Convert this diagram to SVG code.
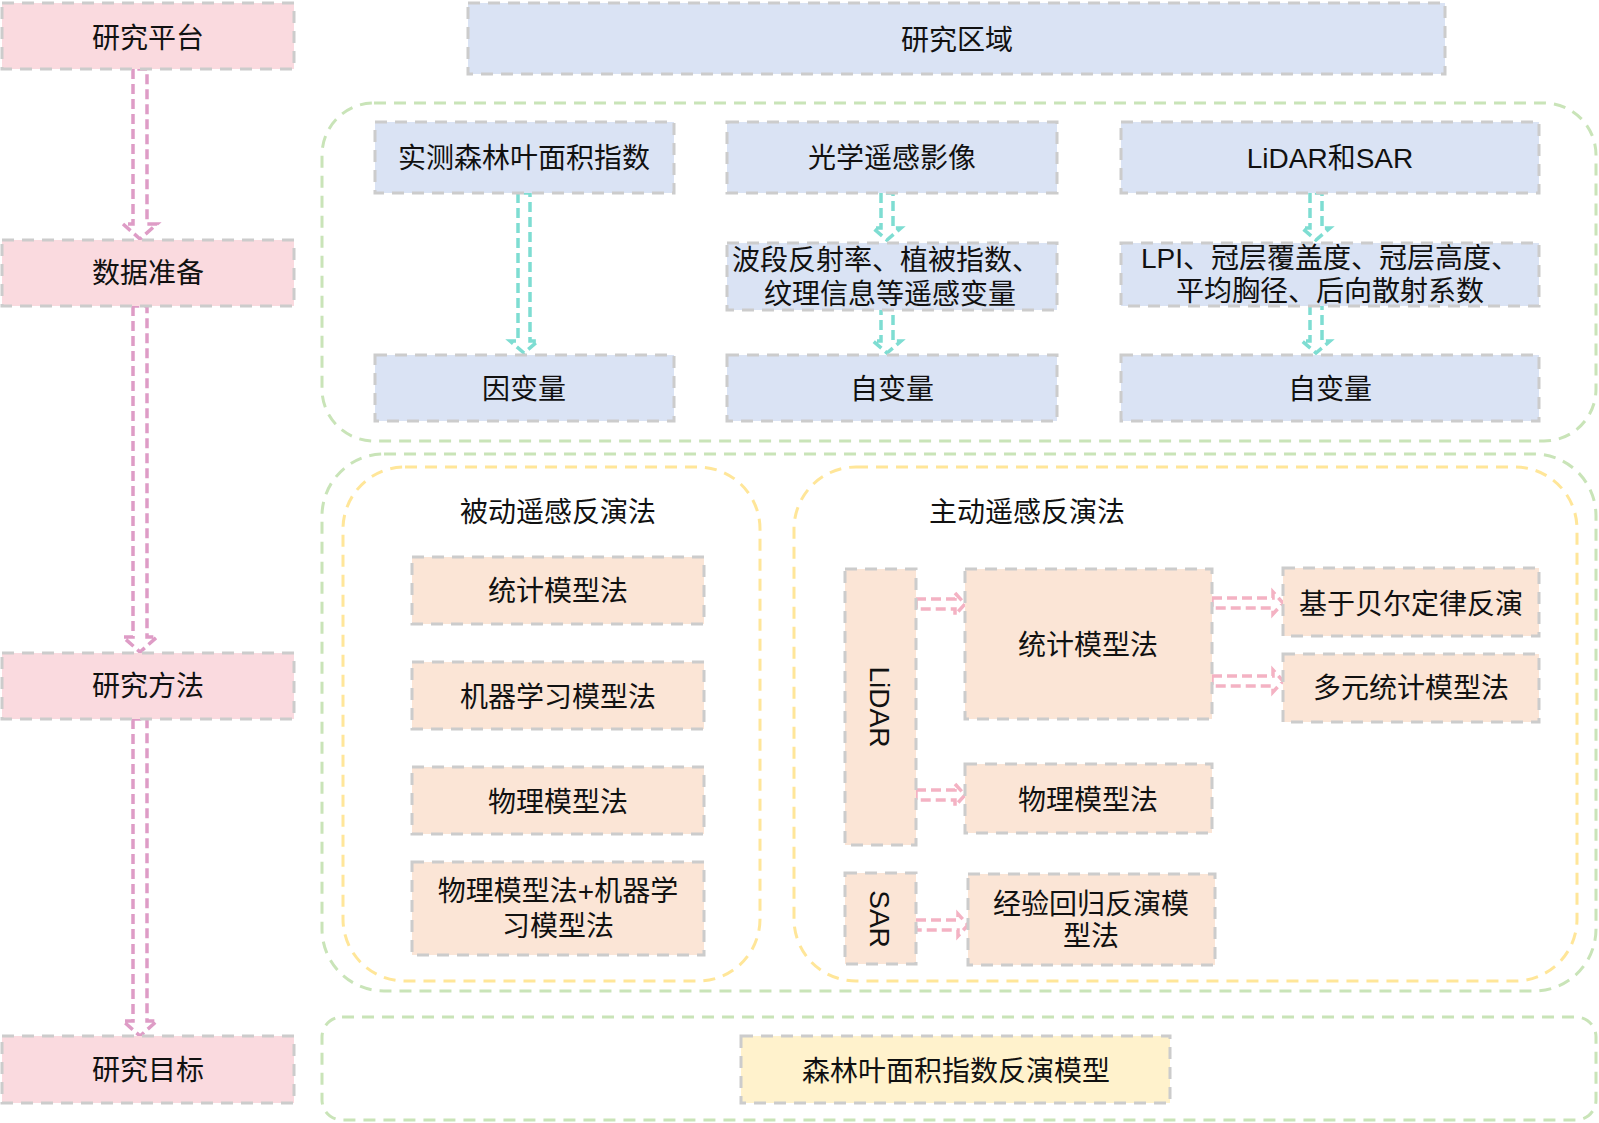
<svg xmlns="http://www.w3.org/2000/svg" width="1599" height="1123" viewBox="0 0 1599 1123">
<style>
text{font-family:"Liberation Sans","Noto Sans CJK SC",sans-serif;font-size:28px;fill:#111;text-anchor:middle}
.box{stroke:#CCCCCC;stroke-width:3;stroke-dasharray:12 8}
.pink{fill:#FADADF}
.blue{fill:#DAE3F4}
.orange{fill:#FBE5D6}
.yellow{fill:#FFF2CC}
.grp{fill:none;stroke-width:3;stroke-dasharray:12 8}
.green{stroke:#C9E4B8}
.ylw{stroke:#FFE699}
.arr{fill:none;stroke-width:3.5;stroke-dasharray:10 5}
.ap{stroke:#DE9CC6}
.ac{stroke:#7EDDD2}
.ah{stroke:#F4B2C3}
</style>
<rect width="1599" height="1123" fill="#fff"/>
<g id="groups">
<rect id="g-data" class="grp green" x="322" y="103" width="1274" height="338" rx="52"/>
<rect id="g-method" class="grp green" x="322" y="454" width="1274" height="537" rx="62"/>
<rect id="g-passive" class="grp ylw" x="343" y="467" width="417" height="514" rx="62"/>
<rect id="g-active" class="grp ylw" x="794" y="467" width="783" height="514" rx="62"/>
<rect id="g-goal" class="grp green" x="322" y="1017" width="1274" height="103" rx="20"/>
</g>
<g id="connectors">
<path class="arr ap" d="M133,69 L133,224 L123,224 L140,239 L157,224 L147,224 L147,69 Z"/>
<path class="arr ap" d="M133,306 L133,637 L123,637 L140,652 L157,637 L147,637 L147,306 Z"/>
<path class="arr ap" d="M133,719 L133,1021 L123,1021 L140,1036 L157,1021 L147,1021 L147,719 Z"/>
<path class="arr ac" d="M518,193 L518,341 L510,341 L524,353 L538,341 L530,341 L530,193 Z"/>
<path class="arr ac" d="M881,193 L881,228 L873,228 L887,240 L901,228 L893,228 L893,193 Z"/>
<path class="arr ac" d="M881,305 L881,341 L873,341 L887,353 L901,341 L893,341 L893,305 Z"/>
<path class="arr ac" d="M1310,193 L1310,228 L1302,228 L1316,240 L1330,228 L1322,228 L1322,193 Z"/>
<path class="arr ac" d="M1310,305 L1310,341 L1302,341 L1316,353 L1330,341 L1322,341 L1322,305 Z"/>
<path class="arr ah" d="M916,599 L955,599 L955,593 L965,604 L955,615 L955,609 L916,609 Z"/>
<path class="arr ah" d="M916,790 L955,790 L955,784 L965,795 L955,806 L955,800 L916,800 Z"/>
<path class="arr ah" d="M916,920 L958,920 L958,914 L968,925 L958,936 L958,930 L916,930 Z"/>
<path class="arr ah" d="M1212,598 L1273,598 L1273,592 L1283,603 L1273,614 L1273,608 L1212,608 Z"/>
<path class="arr ah" d="M1212,676 L1273,676 L1273,670 L1283,681 L1273,692 L1273,686 L1212,686 Z"/>
</g>
<g id="n-platform"><rect class="box pink" x="2" y="3" width="292" height="66"/><text x="148" y="48">研究平台</text></g>
<g id="n-prep"><rect class="box pink" x="2" y="240" width="292" height="66"/><text x="148" y="283">数据准备</text></g>
<g id="n-method"><rect class="box pink" x="2" y="653" width="292" height="66"/><text x="148" y="696">研究方法</text></g>
<g id="n-goal"><rect class="box pink" x="2" y="1036" width="292" height="67"/><text x="148" y="1080">研究目标</text></g>
<g id="n-area"><rect class="box blue" x="468" y="3" width="977" height="71"/><text x="957" y="50">研究区域</text></g>
<g id="n-lai"><rect class="box blue" x="375" y="122" width="299" height="71"/><text x="524" y="168">实测森林叶面积指数</text></g>
<g id="n-optical"><rect class="box blue" x="727" y="122" width="330" height="71"/><text x="892" y="168">光学遥感影像</text></g>
<g id="n-lidarsar"><rect class="box blue" x="1121" y="122" width="418" height="71"/><text x="1330" y="168">LiDAR和SAR</text></g>
<g id="n-bands"><rect class="box blue" x="727" y="243" width="330" height="67"/><text x="886" y="270">波段反射率、植被指数、</text><text x="890" y="304">纹理信息等遥感变量</text></g>
<g id="n-lpi"><rect class="box blue" x="1121" y="243" width="418" height="63"/><text x="1330" y="268">LPI、冠层覆盖度、冠层高度、</text><text x="1330" y="301">平均胸径、后向散射系数</text></g>
<g id="n-dep"><rect class="box blue" x="375" y="355" width="299" height="66"/><text x="524" y="399">因变量</text></g>
<g id="n-indep1"><rect class="box blue" x="727" y="355" width="330" height="66"/><text x="892" y="399">自变量</text></g>
<g id="n-indep2"><rect class="box blue" x="1121" y="355" width="418" height="66"/><text x="1330" y="399">自变量</text></g>
<g id="t-passive"><text x="558" y="522">被动遥感反演法</text></g>
<g id="t-active"><text x="1027" y="522">主动遥感反演法</text></g>
<g id="n-p-stat"><rect class="box orange" x="412" y="557" width="292" height="67"/><text x="558" y="601">统计模型法</text></g>
<g id="n-p-ml"><rect class="box orange" x="412" y="662" width="292" height="67"/><text x="558" y="707">机器学习模型法</text></g>
<g id="n-p-phys"><rect class="box orange" x="412" y="767" width="292" height="67"/><text x="558" y="812">物理模型法</text></g>
<g id="n-p-hyb"><rect class="box orange" x="412" y="862" width="292" height="93"/><text x="558" y="901">物理模型法+机器学</text><text x="558" y="936">习模型法</text></g>
<g id="n-lidar"><rect class="box orange" x="845" y="569" width="71" height="276"/><text x="880" y="717" transform="rotate(90 880 707)">LiDAR</text></g>
<g id="n-a-stat"><rect class="box orange" x="965" y="569" width="247" height="150"/><text x="1088" y="655">统计模型法</text></g>
<g id="n-a-phys"><rect class="box orange" x="965" y="764" width="247" height="69"/><text x="1088" y="810">物理模型法</text></g>
<g id="n-sar"><rect class="box orange" x="845" y="873" width="71" height="91"/><text x="880" y="929" transform="rotate(90 880 919)">SAR</text></g>
<g id="n-emp"><rect class="box orange" x="968" y="874" width="247" height="91"/><text x="1091" y="914">经验回归反演模</text><text x="1091" y="946">型法</text></g>
<g id="n-beer"><rect class="box orange" x="1283" y="568" width="256" height="68"/><text x="1411" y="614">基于贝尔定律反演</text></g>
<g id="n-multi"><rect class="box orange" x="1283" y="654" width="256" height="68"/><text x="1411" y="698">多元统计模型法</text></g>
<g id="n-model"><rect class="box yellow" x="741" y="1036" width="429" height="67"/><text x="956" y="1081">森林叶面积指数反演模型</text></g>
</svg>
